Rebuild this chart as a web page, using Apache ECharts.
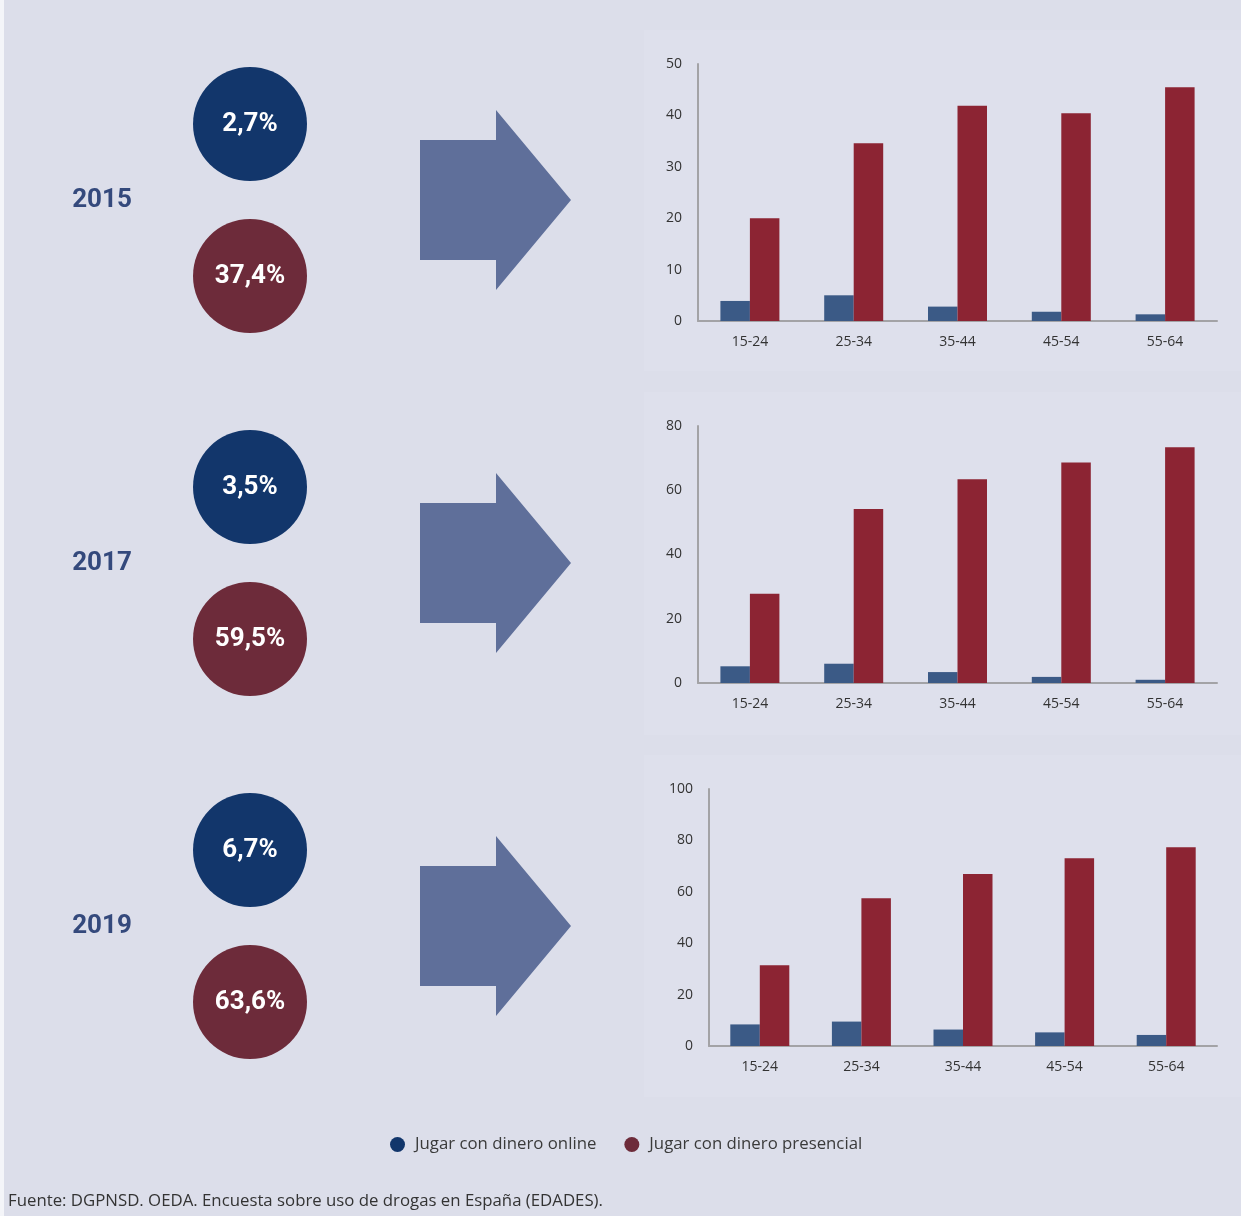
<!DOCTYPE html>
<html lang="es">
<head>
	<meta charset="UTF-8">
	<title>Juego con dinero por edad</title>
	<style>
		html,body{margin:0;padding:0;background:#fff;overflow:hidden;}
		#main{position:absolute;top:0;left:0;width:1241px;height:1216px;}
	</style>
</head>
<body>
	<div id="main"></div>
	<script src="https://cdn.jsdelivr.net/npm/echarts@6/dist/echarts.min.js"></script>
	<script>
		// datos
		var years = ['2015', '2017', '2019'];
		var ageGroups = ['15-24', '25-34', '35-44', '45-54', '55-64'];
		var totalOnline = ['2,7%', '3,5%', '6,7%'];
		var totalPresencial = ['37,4%', '59,5%', '63,6%'];
		var online2015 = [3.9, 5.0, 2.8, 1.8, 1.3];
		var presencial2015 = [20.0, 34.6, 41.9, 40.4, 45.5];
		var online2017 = [5.2, 6.0, 3.4, 1.9, 1.0];
		var presencial2017 = [27.8, 54.2, 63.4, 68.6, 73.4];
		var online2019 = [8.4, 9.5, 6.4, 5.3, 4.3];
		var presencial2019 = [31.4, 57.5, 66.9, 73.1, 77.3];
		var yMax = [50, 80, 100];
		var yStep = [10, 20, 20];

		var onlineData = [online2015, online2017, online2019];
		var presencialData = [presencial2015, presencial2017, presencial2019];
		var nameOnline = 'Jugar con dinero online';
		var namePresencial = 'Jugar con dinero presencial';

		var chart = echarts.init(document.getElementById('main'));
		var font = '"Open Sans", Lato, sans-serif';
		var blockTop = [124, 487, 850];
		var gridTop = [64, 426, 789];
		var gridLeft = [698, 698, 709];

		var grids = [], xAxes = [], yAxes = [], series = [], graphic = [];

		graphic.push({type: 'rect', left: 0, top: 0, shape: {width: 4, height: 1216}, style: {fill: '#f4f5f9'}});
		[[30, 341], [392, 343], [755, 342]].forEach(function (p) {
			graphic.push({type: 'rect', left: 644, top: p[0], shape: {width: 597, height: p[1]}, style: {fill: '#dee0ec'}, z: -1});
		});

		for (var i = 0; i < 3; i++) {
			grids.push({left: gridLeft[i], right: 24, top: gridTop[i], height: 257});
			xAxes.push({
				type: 'category', gridIndex: i, data: ageGroups,
				axisLine: {lineStyle: {color: '#a3a3a6', width: 2}},
				axisTick: {show: false},
				axisLabel: {color: '#333', fontSize: 14, fontFamily: font, margin: 14}
			});
			yAxes.push({
				type: 'value', gridIndex: i, min: 0, max: yMax[i], interval: yStep[i],
				axisLine: {show: true, lineStyle: {color: '#a3a3a6', width: 2}},
				axisTick: {show: false},
				splitLine: {show: false},
				axisLabel: {color: '#333', fontSize: 14, fontFamily: font, margin: 16}
			});
			series.push({
				name: nameOnline, type: 'bar', xAxisIndex: i, yAxisIndex: i,
				data: onlineData[i], barWidth: 29.5, barGap: '0%',
				itemStyle: {color: '#3b5a86'}
			});
			series.push({
				name: namePresencial, type: 'bar', xAxisIndex: i, yAxisIndex: i,
				data: presencialData[i], barWidth: 29.5, barGap: '0%',
				itemStyle: {color: '#8c2433'}
			});

			var by = blockTop[i];
			var tipY = by + 76;
			graphic.push({
				type: 'text', x: 102, y: by + 76,
				style: {text: years[i], fill: '#34497c', font: 'bold 26px Roboto, sans-serif', align: 'center', verticalAlign: 'middle'}
			});
			graphic.push({type: 'circle', shape: {cx: 250, cy: by, r: 57}, style: {fill: '#12366b'}});
			graphic.push({type: 'circle', shape: {cx: 250, cy: by + 152, r: 57}, style: {fill: '#6d2b3a'}});
			graphic.push({
				type: 'text', x: 250, y: by, z: 10,
				style: {text: totalOnline[i], fill: '#fff', font: 'bold 26px Roboto, sans-serif', align: 'center', verticalAlign: 'middle'}
			});
			graphic.push({
				type: 'text', x: 250, y: by + 152, z: 10,
				style: {text: totalPresencial[i], fill: '#fff', font: 'bold 26px Roboto, sans-serif', align: 'center', verticalAlign: 'middle'}
			});
			graphic.push({
				type: 'polygon',
				shape: {points: [[420, tipY - 60], [496, tipY - 60], [496, tipY - 90], [571, tipY], [496, tipY + 90], [496, tipY + 60], [420, tipY + 60]]},
				style: {fill: '#5f6f9a'}
			});
		}

		graphic.push({
			type: 'text', x: 8, y: 1201,
			style: {text: 'Fuente: DGPNSD. OEDA. Encuesta sobre uso de drogas en España (EDADES).', fill: '#333', font: '16.8px ' + font, verticalAlign: 'middle'}
		});

		chart.setOption({
			backgroundColor: '#dcdeea',
			animation: false,
			grid: grids,
			xAxis: xAxes,
			yAxis: yAxes,
			legend: {
				left: 385, top: 1131,
				icon: 'circle', itemWidth: 15, itemHeight: 15, itemGap: 28,
				textStyle: {color: '#3a3a3a', fontSize: 16.8, fontFamily: font, padding: [0, 0, 0, 5]},
				data: [
					{name: nameOnline, itemStyle: {color: '#12366b'}},
					{name: namePresencial, itemStyle: {color: '#6d2b3a'}}
				]
			},
			graphic: graphic,
			series: series
		});
	</script>
</body>
</html>
